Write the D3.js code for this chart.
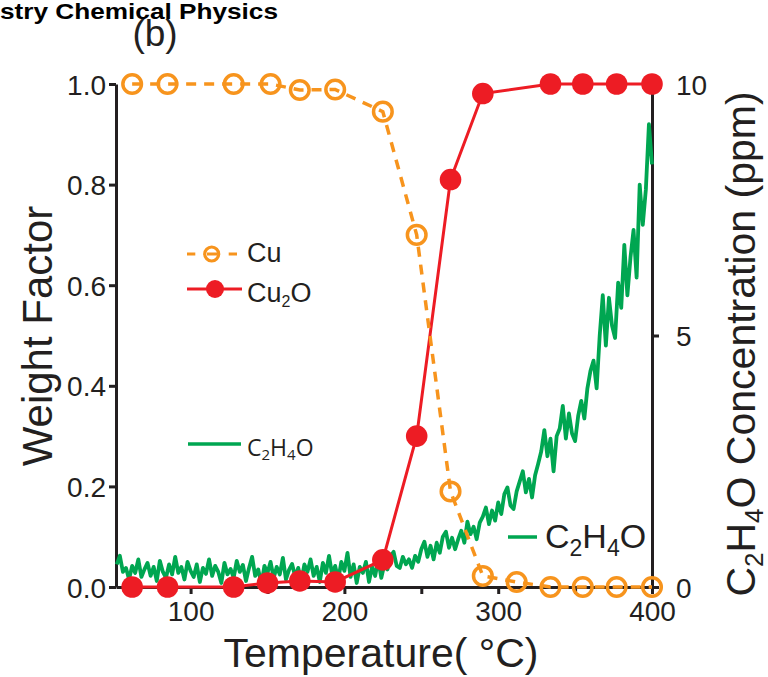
<!DOCTYPE html>
<html><head><meta charset="utf-8">
<script src="https://cdn.jsdelivr.net/npm/d3@7"></script>
<style>body{margin:0;background:#fff} svg{display:block}</style>
</head><body>
<svg id="chart" width="768" height="677"></svg>
<script>
// ---- data ----
const cuTemps = [62, 85, 128, 152, 171, 194, 225, 247, 269, 290, 312, 334, 355, 377, 400];
const cuValues = [1.0, 1.0, 1.0, 1.0, 0.988, 0.989, 0.945, 0.70, 0.19, 0.022, 0.01, 0, 0, 0, 0];
const cu2oTemps = [62, 85, 128, 150, 171, 194, 225, 247, 269, 290, 334, 355, 377, 400];
const cu2oValues = [0, 0, 0, 0.008, 0.012, 0.01, 0.054, 0.30, 0.81, 0.981, 1.0, 1.0, 1.0, 1.0];
// C2H4O concentration (ppm), sampled every 2 °C from 52 °C to 400 °C
const c2h4oStartT = 52, c2h4oStepT = 2;
const c2h4oValues = [
  0.45, 0.62, 0.30, 0.38, 0.15, 0.42, 0.28, 0.55, 0.20, 0.35,
  0.48, 0.22, 0.40, 0.12, 0.52, 0.30, 0.18, 0.45, 0.25, 0.60,
  0.28, 0.40, 0.15, 0.50, 0.32, 0.20, 0.45, 0.10, 0.38, 0.26,
  0.55, 0.22, 0.42, 0.30, 0.08, 0.48, 0.25, 0.36, 0.18, 0.52,
  0.30, 0.44, 0.12, 0.38, 0.60, 0.22, 0.35, 0.05, 0.42, 0.28,
  0.50, 0.18, 0.40, 0.25, 0.58, 0.15, 0.34, 0.46, 0.20, 0.38,
  0.12, 0.45, 0.30, 0.55, 0.22, 0.40, 0.10, 0.48, 0.28, 0.62,
  0.25, 0.42, 0.15, 0.50, 0.32, 0.68, 0.20, 0.45, 0.08, 0.40,
  0.28, 0.50, 0.10, 0.40, 0.22, 0.55, 0.18, 0.45, 0.35, 0.62,
  0.70, 0.42, 0.38, 0.60, 0.45, 0.55, 0.38, 0.62, 0.50, 0.75,
  0.90, 0.60, 0.82, 0.55, 0.88, 0.68, 1.00, 1.10, 0.78, 0.98,
  0.75, 0.95, 1.12, 0.88, 1.30, 1.05, 1.20, 0.95, 1.28, 1.40,
  1.58, 1.25, 1.52, 1.32, 1.68, 1.45, 1.85, 1.98, 1.62, 1.55,
  1.90, 2.10, 2.30, 1.88, 2.15, 1.78, 2.22, 2.45, 2.70, 3.12,
  2.60, 2.95, 2.30, 3.00, 3.15, 3.60, 2.95, 3.45, 3.05, 2.90,
  3.40, 3.70, 3.35, 3.95, 4.30, 4.50, 3.95, 5.00, 5.80, 4.80,
  5.75, 5.20, 4.95, 6.05, 5.55, 6.80, 5.80, 6.55, 7.10, 6.15,
  8.00, 7.20, 7.90, 9.20, 8.40
];
const xTicks = [100, 150, 200, 250, 300, 350, 400];
const xTickLabels = ["100", "", "200", "", "300", "", "400"];
const yLeftTicks = [0, 0.2, 0.4, 0.6, 0.8, 1.0];
const yRightTicks = [0, 5, 10];

const INK = "#231f20", ORANGE = "#f7941d", RED = "#ed1c24", GREEN = "#00a651";
const FONT = "Arial, 'Liberation Sans', Helvetica, sans-serif";

const svg = d3.select("#chart");
const x = d3.scaleLinear().domain([51.5, 400]).range([116, 652]);
const yL = d3.scaleLinear().domain([0, 1]).range([587, 84]);
const yR = d3.scaleLinear().domain([0, 10]).range([587, 84]);

// header
svg.append("text").attr("x", 0).attr("y", 19).attr("font-family", FONT).attr("font-weight", "bold")
  .attr("font-size", 22).attr("fill", "#000").attr("textLength", 278).attr("lengthAdjust", "spacingAndGlyphs")
  .text("stry Chemical Physics");
svg.append("text").attr("x", 155).attr("y", 46).attr("text-anchor", "middle").attr("font-family", FONT)
  .attr("font-size", 37).attr("fill", INK).text("(b)");

// axes
function styleAxis(g) {
  g.selectAll(".domain").attr("stroke", INK).attr("stroke-width", 3);
  g.selectAll(".tick line").attr("stroke", INK).attr("stroke-width", 3);
  g.selectAll(".tick text").attr("fill", INK).attr("font-family", FONT).attr("font-size", 28);
}
const gx = svg.append("g").attr("transform", "translate(0,587)")
  .call(d3.axisBottom(x).tickValues(xTicks).tickFormat((d, i) => xTickLabels[i]).tickSize(7).tickSizeOuter(0).tickPadding(7));
styleAxis(gx);
const gl = svg.append("g").attr("transform", "translate(116,0)")
  .call(d3.axisLeft(yL).tickValues(yLeftTicks).tickFormat(d3.format(".1f")).tickSize(7).tickSizeOuter(0).tickPadding(3));
styleAxis(gl);
gl.selectAll(".tick text").attr("dy", "0.36em");
const gr = svg.append("g").attr("transform", "translate(652,0)")
  .call(d3.axisRight(yR).tickValues(yRightTicks).tickSize(7).tickSizeOuter(0).tickPadding(17));
styleAxis(gr);
gr.selectAll(".tick text").attr("dy", "0.36em");

// axis titles
svg.append("text").attr("transform", "translate(52,336) rotate(-90)").attr("text-anchor", "middle")
  .attr("font-family", FONT).attr("font-size", 42).attr("fill", INK).text("Weight Factor");
svg.append("text").attr("x", 381).attr("y", 667).attr("text-anchor", "middle")
  .attr("font-family", FONT).attr("font-size", 41).attr("fill", INK).text("Temperature( °C)");
const rt = svg.append("text").attr("transform", "translate(755,344) rotate(-90)").attr("text-anchor", "middle")
  .attr("font-family", FONT).attr("font-size", 41).attr("fill", INK);
rt.append("tspan").text("C");
rt.append("tspan").attr("font-size", 26).attr("dy", 8).text("2");
rt.append("tspan").attr("dy", -8).text("H");
rt.append("tspan").attr("font-size", 26).attr("dy", 8).text("4");
rt.append("tspan").attr("dy", -8).text("O Concentration (ppm)");

// green C2H4O trace
const greenData = c2h4oValues.map((v, i) => ({t: c2h4oStartT + i * c2h4oStepT, v}));
svg.append("path").datum(greenData).attr("fill", "none").attr("stroke", GREEN).attr("stroke-width", 3.8)
  .attr("stroke-linejoin", "round")
  .attr("d", d3.line().x(d => x(d.t)).y(d => yR(d.v)));

// Cu2O
const redData = cu2oTemps.map((t, i) => ({t, v: cu2oValues[i]}));
svg.append("path").datum(redData).attr("fill", "none").attr("stroke", RED).attr("stroke-width", 3)
  .attr("d", d3.line().x(d => x(d.t)).y(d => yL(d.v)));
svg.append("g").selectAll("circle").data(redData).join("circle")
  .attr("cx", d => x(d.t)).attr("cy", d => yL(d.v)).attr("r", 10.8).attr("fill", RED);

// Cu
const cuData = cuTemps.map((t, i) => ({t, v: cuValues[i]}));
svg.append("path").datum(cuData).attr("fill", "none").attr("stroke", ORANGE).attr("stroke-width", 3.5)
  .attr("stroke-dasharray", "10,8")
  .attr("d", d3.line().x(d => x(d.t)).y(d => yL(d.v)));
svg.append("g").selectAll("circle").data(cuData).join("circle")
  .attr("cx", d => x(d.t)).attr("cy", d => yL(d.v)).attr("r", 9.3)
  .attr("fill", "none").attr("stroke", ORANGE).attr("stroke-width", 3.5);

// legend Cu / Cu2O
svg.append("line").attr("x1", 187).attr("x2", 237).attr("y1", 254).attr("y2", 254)
  .attr("stroke", ORANGE).attr("stroke-width", 3).attr("stroke-dasharray", "8.3,11.7,10,11.7,8.3");
svg.append("circle").attr("cx", 211.7).attr("cy", 254).attr("r", 7).attr("fill", "none")
  .attr("stroke", ORANGE).attr("stroke-width", 3.2);
svg.append("text").attr("x", 247).attr("y", 262).attr("font-family", FONT).attr("font-size", 27)
  .attr("fill", INK).text("Cu");
svg.append("line").attr("x1", 187).attr("x2", 242).attr("y1", 289).attr("y2", 289)
  .attr("stroke", RED).attr("stroke-width", 3);
svg.append("circle").attr("cx", 215).attr("cy", 289).attr("r", 9).attr("fill", RED);
const l2 = svg.append("text").attr("x", 247).attr("y", 302).attr("font-family", FONT).attr("font-size", 27).attr("fill", INK);
l2.append("tspan").text("Cu");
l2.append("tspan").attr("font-size", 16).attr("dy", 5).text("2");
l2.append("tspan").attr("dy", -5).text("O");

// legend C2H4O (small)
svg.append("line").attr("x1", 188).attr("x2", 241).attr("y1", 444).attr("y2", 444)
  .attr("stroke", GREEN).attr("stroke-width", 3.5);
const l3 = svg.append("text").attr("x", 247).attr("y", 456).attr("font-family", "'Open Sans', sans-serif")
  .attr("font-size", 23).attr("fill", INK);
l3.append("tspan").text("C");
l3.append("tspan").attr("font-size", 15).attr("dy", 4).text("2");
l3.append("tspan").attr("dy", -4).text("H");
l3.append("tspan").attr("font-size", 15).attr("dy", 4).text("4");
l3.append("tspan").attr("dy", -4).text("O");

// legend C2H4O (large)
svg.append("line").attr("x1", 508).attr("x2", 537).attr("y1", 537).attr("y2", 537)
  .attr("stroke", GREEN).attr("stroke-width", 3.5);
const l4 = svg.append("text").attr("x", 545).attr("y", 548).attr("font-family", FONT)
  .attr("font-size", 34).attr("fill", INK);
l4.append("tspan").text("C");
l4.append("tspan").attr("font-size", 23).attr("dy", 8).text("2");
l4.append("tspan").attr("dy", -8).text("H");
l4.append("tspan").attr("font-size", 23).attr("dy", 8).text("4");
l4.append("tspan").attr("dy", -8).text("O");
</script>
</body></html>
